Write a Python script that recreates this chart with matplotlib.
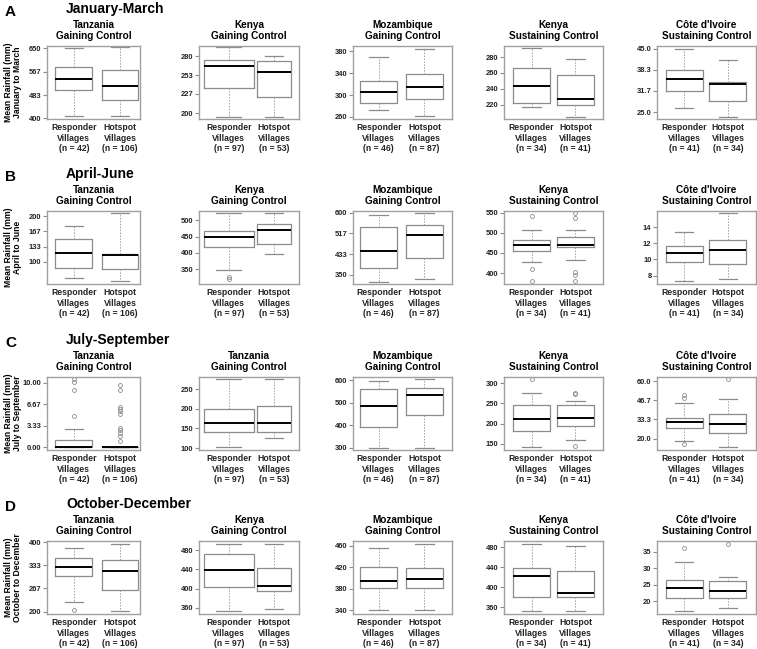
import matplotlib
matplotlib.use('Agg')
import matplotlib.pyplot as plt

plt.rcParams['font.family'] = ['Liberation Sans', 'DejaVu Sans']
plt.rcParams['font.weight'] = 'bold'
plt.rcParams['axes.titleweight'] = 'bold'
plt.rcParams['axes.labelweight'] = 'bold'

#data--------------------------------------------
seasons = ["January-March", "April-June", "July-September", "October-December"]
letters = ["A", "B", "C", "D"]
ylabels = ["Mean Rainfall (mm)\nJanuary to March",
           "Mean Rainfall (mm)\nApril to June",
           "Mean Rainfall (mm)\nJuly to September",
           "Mean Rainfall (mm)\nOctober to December"]
titles = ["Tanzania\nGaining Control", "Kenya\nGaining Control", "Mozambique\nGaining Control",
          "Kenya\nSustaining Control", "Côte d'Ivoire\nSustaining Control"]
titles_jul = ["Tanzania\nGaining Control", "Tanzania\nGaining Control", "Mozambique\nGaining Control",
              "Kenya\nSustaining Control", "Côte d'Ivoire\nSustaining Control"]
n_resp = [42, 97, 46, 34, 41]
n_hot = [106, 53, 87, 41, 34]

# box stats per panel: [low whisker, Q1, median, Q3, high whisker]
jan_resp = [[408, 502, 542, 582, 650], [195, 235, 266, 274, 292], [273, 286, 306, 326, 370],
            [217, 222, 244, 266, 291], [26.2, 31.6, 35.3, 38.3, 45.0]]
jan_hot = [[408, 465, 517, 573, 654], [195, 223, 258, 273, 280], [262, 293, 314, 338, 384],
           [205, 220, 227, 258, 278], [23.5, 28.6, 33.7, 34.3, 41.5]]
jan_out_resp = [[], [], [], [], []]
jan_out_hot = [[], [], [], [], []]
jan_ticks = [["400", "483", "567", "650"], ["200", "227", "253", "280"], ["260", "300", "340", "380"],
             ["220", "240", "260", "280"], ["25.0", "31.7", "38.3", "45.0"]]
jan_ylim = [(398, 658), (192, 294), (256, 390), (202, 294), (22.8, 45.8)]

apr_resp = [[65, 86.9, 120.4, 150.4, 178.8], [348, 418, 449, 468, 524], [323, 376, 447, 541, 592],
            [427.5, 455, 469, 482, 506], [7.29, 9.67, 10.8, 11.67, 13.42]]
apr_hot = [[58.4, 85.4, 114.6, 118.2, 206.6], [395.6, 427.6, 469, 489.7, 523.8], [333.6, 417, 509.8, 550.8, 598.6],
           [431.7, 464.2, 470, 489.2, 505.8], [7.58, 9.42, 11.17, 12.46, 15.79]]
apr_out_resp = [[], [325, 319], [], [541.7, 410, 380.8], []]
apr_out_hot = [[], [], [], [550, 535.8, 401.7, 395.8, 380.8], []]
apr_ticks = [["100", "133", "167", "200"], ["350", "400", "450", "500"], ["350", "433", "517", "600"],
             ["400", "450", "500", "550"], ["8", "10", "12", "14"]]
apr_ylim = [(52, 211), (304, 529), (313, 607), (373, 554), (6.96, 16)]

jul_resp = [[0, 0, 0, 1.14, 2.8], [101.7, 140, 163.9, 198.8, 275.6], [300, 391.5, 486, 559.5, 595.5],
            [141.7, 183, 211, 244.8, 276], [18.1, 27.4, 31.6, 34.2, 44.9]]
jul_hot = [[0, 0, 0, 0, 0], [125.5, 140, 163.9, 207.4, 275.6], [300, 445.5, 532.5, 565.5, 604.5],
           [160, 194.5, 215, 244.8, 256.3], [14, 24.2, 30.2, 37.4, 47.4]]
jul_out_resp = [[10.57, 10.16, 8.96, 4.87], [], [], [310], [50.2, 48.4, 16.3]]
jul_out_hot = [[9.69, 8.96, 6.32, 5.96, 5.6, 5.18, 3.06, 2.75, 2.28, 1.71, 0.93], [], [],
               [276, 272, 144.2], [61.4]]
jul_ticks = [["0.00", "3.33", "6.67", "10.00"], ["100", "150", "200", "250"], ["300", "400", "500", "600"],
             ["150", "200", "250", "300"], ["20.0", "33.3", "46.7", "60.0"]]
jul_ylim = [(-0.42, 10.9), (95, 281), (289, 614), (135, 315), (12.1, 62.8)]

oct_resp = [[228.3, 302.8, 327.4, 354.7, 382], [353.8, 403.9, 439.5, 471, 492.3], [340, 382.2, 394.5, 420.2, 455.7],
            [352.8, 379.8, 422.6, 438.5, 486], [17.2, 21.1, 24.0, 26.5, 32.0]]
oct_hot = [[202.8, 263.2, 318, 349, 393.4], [357.2, 395.6, 406, 443.6, 492.3], [340, 382.2, 398.2, 419.6, 463],
           [352.8, 380.5, 389, 433.2, 483.3], [17.9, 21.1, 23.2, 26.1, 27.3]]
oct_out_resp = [[204.7], [], [], [], [36.2]]
oct_out_hot = [[], [], [], [], [37.4]]
oct_ticks = [["200", "267", "333", "400"], ["360", "400", "440", "480"], ["340", "380", "420", "460"],
             ["360", "400", "440", "480"], ["20", "25", "30", "35"]]
oct_ylim = [(193, 403), (347, 499), (333, 469), (346, 492.5), (16.2, 38.2)]

rows = [(jan_resp, jan_hot, jan_out_resp, jan_out_hot, jan_ticks, jan_ylim, titles),
        (apr_resp, apr_hot, apr_out_resp, apr_out_hot, apr_ticks, apr_ylim, titles),
        (jul_resp, jul_hot, jul_out_resp, jul_out_hot, jul_ticks, jul_ylim, titles_jul),
        (oct_resp, oct_hot, oct_out_resp, oct_out_hot, oct_ticks, oct_ylim, titles)]

#layout (pixels)-----------------------------------
W, H = 757, 649
col_left = [47, 199, 353, 504, 657]
col_width = [93, 100, 99, 99, 99]
row_top = [46, 211, 377, 541]
ax_h = 73
col_pos = [[1.06, 2.09], [1.08, 2.02], [1.0, 1.96], [1.04, 1.96], [1.03, 1.95]]
col_w = [[0.82, 0.8], [1.04, 0.71], [0.78, 0.78], [0.78, 0.78], [0.78, 0.78]]

gray = '#8c8c8c'
fig = plt.figure(figsize=(W / 100, H / 100), dpi=100)


def make_stats(vals, out):
    lo, q1, med, q3, hi = vals
    return dict(whislo=lo, q1=q1, med=med, q3=q3, whishi=hi, fliers=out)


for r, (resp, hot, o_resp, o_hot, ticks, ylims, tt) in enumerate(rows):
    top = row_top[r]
    fig.text(66 / W, 1 - (top - 33) / H, seasons[r], fontsize=10, fontweight='bold', va='baseline')
    fig.text(5 / W, 1 - (top - 30) / H, letters[r], fontsize=11, fontweight='bold', va='baseline')
    for c in range(5):
        ax = fig.add_axes([col_left[c] / W, 1 - (top + ax_h) / H, col_width[c] / W, ax_h / H])
        stats = [make_stats(resp[c], o_resp[c]), make_stats(hot[c], o_hot[c])]
        ax.bxp(stats, positions=col_pos[c], widths=col_w[c], showfliers=True,
               boxprops=dict(color=gray, lw=0.9),
               medianprops=dict(color='black', lw=1.4),
               whiskerprops=dict(color='#a0a0a0', lw=0.7, linestyle=(0, (1.5, 1.5))),
               capprops=dict(color=gray, lw=0.9),
               flierprops=dict(marker='o', markersize=2.8, markerfacecolor='none',
                               markeredgecolor=gray, markeredgewidth=0.6))
        ax.set_xlim(0.46, 2.54)
        ax.set_ylim(*ylims[c])
        ax.set_yticks([float(t) for t in ticks[c]])
        ax.set_yticklabels(ticks[c], fontweight='bold', color='#222222')
        ax.set_xticks(col_pos[c])
        ax.set_xticklabels(["Responder\nVillages\n(n = %d)" % n_resp[c],
                            "Hotspot\nVillages\n(n = %d)" % n_hot[c]],
                           linespacing=1.2, fontweight='bold', color='#222222')
        ax.tick_params(axis='y', length=3, width=0.8, color=gray, labelsize=5.4, pad=1)
        ax.tick_params(axis='x', length=0, labelsize=6.2, pad=3)
        for s in ax.spines.values():
            s.set_color('#a0a0a0')
            s.set_linewidth(1.0)
        ax.set_title(tt[c], fontsize=7.2, fontweight='bold', pad=5, linespacing=1.15)
        if c == 0:
            ax.set_ylabel(ylabels[r], fontsize=6.2, fontweight='bold', linespacing=1.1)
            ax.yaxis.set_label_coords(-0.265, 0.5)

plt.savefig("out.png", dpi=100)
